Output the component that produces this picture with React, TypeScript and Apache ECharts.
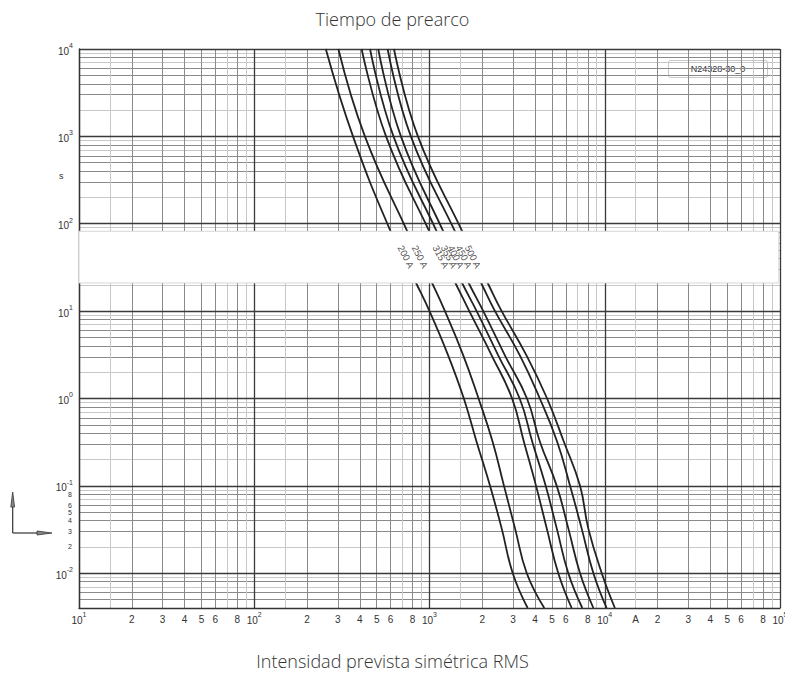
import React, { useEffect, useRef } from 'react';
import * as echarts from 'echarts';

// ---------- texts ----------
const chartTitle = 'Tiempo de prearco';
const xTitle = 'Intensidad prevista simétrica RMS';
const yUnit = 's';
const refCode = 'N24328-30_0';

// ---------- curve data (current in A, time in s) ----------
const fuseLabels = ['200 A', '250 A', '315 A', '355 A', '400 A', '450 A', '500 A'];
const timePoints = [10000, 1000, 82, 20.3, 10, 3.1, 1, 0.318, 0.1, 0.0326, 0.01, 0.004];
const curve200 = [256, 366, 600, 845, 1000, 1279, 1570, 1858, 2215, 2581, 2985, 3631];
const curve250 = [302, 428, 747, 1043, 1225, 1560, 1905, 2294, 2661, 3076, 3590, 4518];
const curve315 = [410, 565, 997, 1417, 1687, 2266, 2960, 3459, 4055, 4667, 5431, 6475];
const curve355 = [458, 623, 1099, 1547, 1858, 2470, 3270, 3862, 4603, 5322, 6196, 7447];
const curve400 = [510, 687, 1198, 1687, 2027, 2697, 3600, 4271, 5322, 6196, 7227, 8614];
const curve450 = [577, 783, 1398, 1986, 2364, 3283, 4260, 5358, 6339, 7380, 8614, 10250];
const curve500 = [627, 859, 1538, 2165, 2581, 3581, 4690, 5851, 7227, 8054, 9615, 11425];
const curves = [curve200, curve250, curve315, curve355, curve400, curve450, curve500];

// label anchor positions (current, time) inside the white band
const labelCurrents = [734, 883, 1163, 1292, 1417, 1573, 1771];
const labelTime = 42;
const bandTop = 82;
const bandBottom = 21;

// ---------- axis ticks ----------
const xDecades = [10, 100, 1000, 10000];
const yDecades = [0.001, 0.01, 0.1, 1, 10, 100, 1000];
const xMajor = [10, 100, 1000, 10000, 100000];
const yMajor = [0.01, 0.1, 1, 10, 100, 1000, 10000];
const xDarkMult = [2, 3, 4, 5, 6, 8];
const xLightMult = [1.5, 7, 9];
const yDarkMult = [3, 4, 5, 6, 8];
const yLightMult = [2, 7, 9];
const xLabelMult = [1.5, 2, 3, 4, 5, 6, 8];
const yMinorLabels = [0.02, 0.03, 0.04, 0.05, 0.06, 0.08];
const X_MIN = 10, X_MAX = 100000, Y_MIN = 0.004, Y_MAX = 10000;

const mk = (ds: number[], ms: number[], lo: number, hi: number) =>
  ds.flatMap(d => ms.map(m => Number((d * m).toPrecision(6)))).filter(v => v >= lo && v <= hi);

const mantissa = (v: number) => {
  const e = Math.floor(Math.log10(v) + 1e-9);
  return v / Math.pow(10, e);
};

const xMinorDark = mk(xDecades, xDarkMult, X_MIN, X_MAX);
const xMinorLight = mk(xDecades, xLightMult, X_MIN, X_MAX);
const xMinorLabels = mk(xDecades, xLabelMult, X_MIN, X_MAX).filter(v => !(v < 10000 && Math.abs(mantissa(v) - 1.5) < 0.01));
const yMinorDark = mk(yDecades, yDarkMult, Y_MIN, Y_MAX);
const yMinorLight = mk(yDecades, yLightMult, Y_MIN, Y_MAX);

const FONT = '"Liberation Sans", Arial, sans-serif';
const TXT = '#333';

const powRich = {
  b: { fontSize: 10, color: TXT, fontFamily: FONT, verticalAlign: 'bottom', lineHeight: 14 },
  s: { fontSize: 7, color: TXT, fontFamily: FONT, verticalAlign: 'top', lineHeight: 14 },
};
const powLabel = (v: number) => `{b|10}{s|${Math.round(Math.log10(v))}}`;
const xMinorFmt = (v: number) => {
  const m = mantissa(v);
  if (Math.abs(m - 1.5) < 0.01) return 'A';
  return String(Math.round(m));
};

export default function App() {
  const ref = useRef<HTMLDivElement>(null);
  useEffect(() => {
    if (!ref.current) return;
    const chart = echarts.init(ref.current, null, { renderer: 'svg' });

    const baseX = { type: 'log', logBase: 10, min: X_MIN, max: X_MAX, gridIndex: 0, position: 'bottom' };
    const baseY = { type: 'log', logBase: 10, min: Y_MIN, max: Y_MAX, gridIndex: 0, position: 'left' };

    const curveSeries = curves.map((c, i) => ({
      type: 'line',
      name: fuseLabels[i],
      xAxisIndex: 0,
      yAxisIndex: 0,
      data: c.map((I, k) => [I, timePoints[k]]),
      smooth: 0.45,
      symbol: 'none',
      z: 3,
      lineStyle: { color: '#222', width: 1.8 },
    }));

    const titleStyle = { fontFamily: '"Open Sans", sans-serif', fontWeight: 300, fontSize: 18, color: '#333' };

    const option: any = {
      animation: false,
      backgroundColor: '#fff',
      title: [
        { text: chartTitle, left: 'center', top: 5, textStyle: titleStyle },
        { text: xTitle, left: 'center', top: 647, textStyle: titleStyle },
      ],
      grid: { left: 79, right: 5, top: 49, bottom: 69, containLabel: false, outerBoundsMode: 'none' },
      xAxis: [
        {
          ...baseX,
          axisLine: { show: true, lineStyle: { color: '#333', width: 1.3 } },
          axisTick: { show: false, customValues: xMajor },
          axisLabel: { customValues: xMajor, formatter: powLabel, rich: powRich, margin: 3, color: TXT },
          splitLine: { show: true, lineStyle: { color: '#3a3a3a', width: 1.3 } },
          z: 2,
        },
        {
          ...baseX,
          axisLine: { show: false },
          axisTick: { show: false, customValues: xMinorDark },
          axisLabel: { customValues: xMinorLabels, formatter: xMinorFmt, fontSize: 10, fontFamily: FONT, color: TXT, margin: 6 },
          splitLine: { show: true, lineStyle: { color: '#8a8a8a', width: 1 } },
          z: 1,
        },
        {
          ...baseX,
          axisLine: { show: false },
          axisTick: { show: false, customValues: xMinorLight },
          axisLabel: { show: false },
          splitLine: { show: true, lineStyle: { color: '#c8c8c8', width: 1 } },
          z: 1,
        },
      ],
      yAxis: [
        {
          ...baseY,
          axisLine: { show: true, lineStyle: { color: '#333', width: 1.3 } },
          axisTick: { show: false, customValues: yMajor },
          axisLabel: { customValues: yMajor, formatter: powLabel, rich: powRich, margin: 6, color: TXT },
          splitLine: { show: true, lineStyle: { color: '#3a3a3a', width: 1.3 } },
          z: 2,
        },
        {
          ...baseY,
          axisLine: { show: false },
          axisTick: { show: false, customValues: yMinorDark },
          axisLabel: { customValues: yMinorLabels, formatter: (v: number) => String(Math.round(mantissa(v))), fontSize: 7, fontFamily: FONT, color: TXT, margin: 7 },
          splitLine: { show: true, lineStyle: { color: '#8a8a8a', width: 1 } },
          z: 1,
        },
        {
          ...baseY,
          axisLine: { show: false },
          axisTick: { show: false, customValues: yMinorLight },
          axisLabel: { show: false },
          splitLine: { show: true, lineStyle: { color: '#c8c8c8', width: 1 } },
          z: 1,
        },
      ],
      series: [
        ...curveSeries,
        {
          type: 'line',
          name: 'band',
          xAxisIndex: 0,
          yAxisIndex: 0,
          data: [],
          z: 10,
          markArea: {
            silent: true,
            z: 20,
            itemStyle: { color: '#ffffff', opacity: 1, borderColor: '#d6d6d6', borderWidth: 1 },
            data: [[{ xAxis: X_MIN, yAxis: bandTop }, { xAxis: X_MAX * 0.985, yAxis: bandBottom }]],
          },
        },
        {
          type: 'scatter',
          name: 'labels',
          xAxisIndex: 0,
          yAxisIndex: 0,
          z: 30,
          symbolSize: 1,
          itemStyle: { color: 'rgba(0,0,0,0)' },
          data: labelCurrents.map((I, i) => ({ value: [I, labelTime], name: fuseLabels[i] })),
          label: {
            show: true,
            position: 'inside',
            formatter: '{b}',
            rotate: -63,
            fontSize: 9.5,
            fontFamily: FONT,
            color: '#222',
          },
        },
      ],
      graphic: [
        {
          type: 'text',
          left: 59,
          top: 171,
          style: { text: yUnit, fontSize: 9, fontFamily: FONT, fill: TXT },
        },
        {
          type: 'group',
          left: 668,
          top: 60,
          children: [
            { type: 'rect', shape: { x: 0, y: 0, width: 99, height: 17, r: 2 }, style: { fill: '#fff', stroke: '#c8c8c8', lineWidth: 1 } },
            { type: 'text', x: 49.5, y: 8.5, style: { text: refCode, fontSize: 9, fontFamily: FONT, fill: TXT, align: 'center', verticalAlign: 'middle' } },
          ],
        },
        { type: 'line', shape: { x1: 12.7, y1: 533, x2: 12.7, y2: 500 }, style: { stroke: '#333', lineWidth: 1.2 } },
        { type: 'polygon', shape: { points: [[12.7, 492], [10.8, 507], [14.6, 507]] }, style: { fill: '#888', stroke: '#333', lineWidth: 0.8 } },
        { type: 'line', shape: { x1: 12.7, y1: 533, x2: 44, y2: 533 }, style: { stroke: '#333', lineWidth: 1.2 } },
        { type: 'polygon', shape: { points: [[52, 533], [37, 531], [37, 535]] }, style: { fill: '#888', stroke: '#333', lineWidth: 0.8 } },
      ],
    };

    chart.setOption(option);
    return () => chart.dispose();
  }, []);

  return <div ref={ref} style={{ position: 'fixed', left: 0, top: 0, width: 785, height: 677, background: '#fff' }} />;
}
